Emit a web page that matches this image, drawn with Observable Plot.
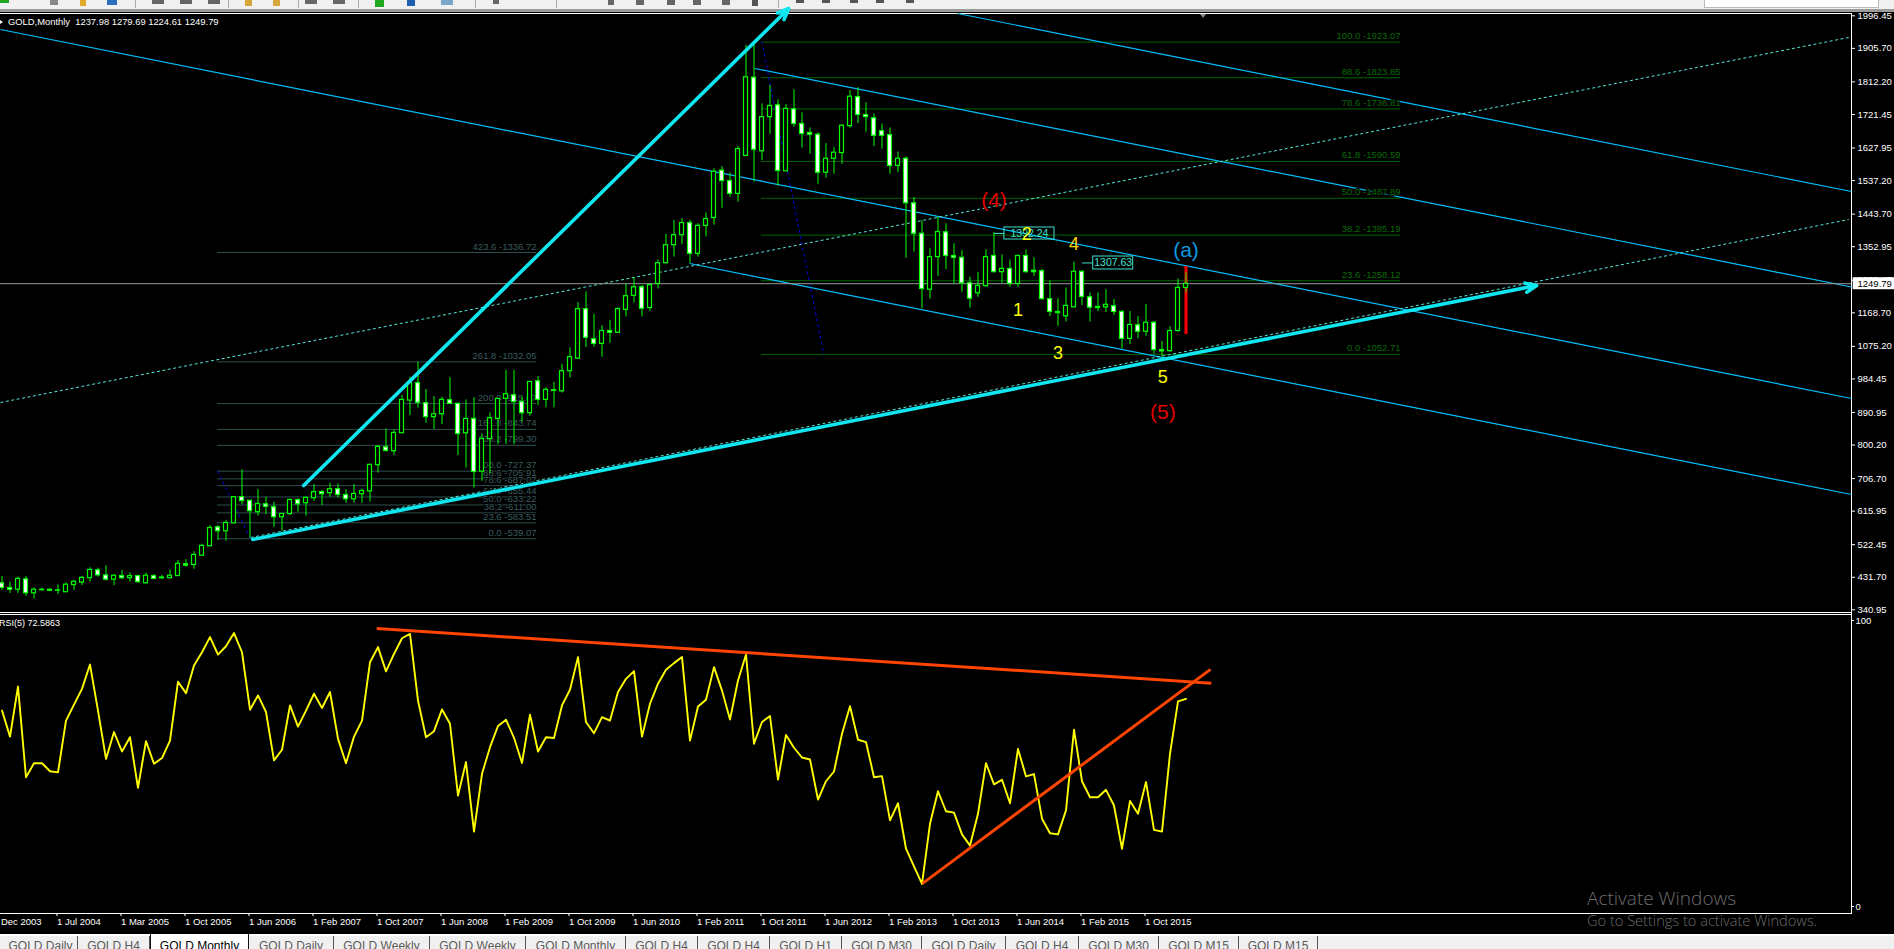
<!DOCTYPE html>
<html>
<head>
<meta charset="utf-8">
<script src="https://cdn.jsdelivr.net/npm/d3@7"></script>
<script src="https://cdn.jsdelivr.net/npm/@observablehq/plot@0.6"></script>
<style>
html,body{margin:0;padding:0;background:#000;overflow:hidden}
#page{position:relative;width:1894px;height:949px;background:#000;overflow:hidden;font-family:"Liberation Sans",Arial,sans-serif}
#page svg{position:absolute;left:0;background:transparent;overflow:hidden}
.c{position:absolute}
.tab{position:absolute;top:936px;height:13px;overflow:hidden;color:#5a5a5a;font-size:12px;line-height:20px;text-align:center;border-right:1px solid #555;box-sizing:border-box;white-space:nowrap}
.tab.on{background:#fff;color:#000;top:934px;height:15px;line-height:24px;border-left:1px solid #111;border-right:1px solid #111}
</style>
</head>
<body>
<div id="page">
  <div class="c" style="left:0;top:0;width:1894px;height:9px;background:#f0f0f0"></div>
  <div class="c" style="left:0;top:9px;width:1894px;height:3px;background:#9a9a9a"></div>
  <div class="c" style="left:1704px;top:0;width:173px;height:7px;background:#fff;border:1px solid #bbb;border-top:0"></div>
  <div class="c" style="left:0;top:13px;width:1851px;height:1px;background:#fff"></div>
  <div class="c" style="left:0;top:612px;width:1851px;height:1px;background:#fff"></div>
  <div class="c" style="left:0;top:614px;width:1851px;height:1px;background:#fff"></div>
  <div class="c" style="left:0;top:913px;width:1851px;height:1px;background:#fff"></div>
  <div class="c" style="left:1851px;top:13px;width:1px;height:901px;background:#fff"></div>
  <div class="c" style="left:0;top:934px;width:1894px;height:2px;background:#fff"></div>
  <div class="c" style="left:0;top:936px;width:1894px;height:13px;background:#f0f0f0"></div>
  <div id="tools"></div>
  <div class="c" style="left:1200px;top:14px;width:0;height:0;border-left:3px solid transparent;border-right:3px solid transparent;border-top:4px solid #888"></div>
  <div class="c" style="left:0;top:20px;width:0;height:0;border-top:2px solid transparent;border-bottom:2px solid transparent;border-left:3px solid #fff"></div>
  <div class="c" style="left:8px;top:16px;color:#fff;font-size:9.4px;line-height:12px;white-space:pre">GOLD,Monthly  1237.98 1279.69 1224.61 1249.79</div>
  <div class="c" style="left:-1px;top:617px;color:#fff;font-size:9px;line-height:12px;white-space:pre">RSI(5) 72.5863</div>
</div>
<script>
// Monthly GOLD candles, oldest first
const opens = [415,402,397,426,387,397,397,394,390,410,
417,429,451,437,425,435,429,435,415,435,
431,429,435,468,466,492,518,571,560,582,
655,645,613,635,627,599,608,647,638,652,
669,666,677,661,649,663,671,744,794,783,
833,924,973,917,878,886,925,915,833,873,
726,817,873,929,939,920,889,978,926,951,
950,1006,1041,1179,1095,1082,1118,1113,1177,1216,
1240,1182,1249,1307,1357,1385,1419,1333,1411,1433,
1565,1536,1500,1606,1824,1619,1714,1747,1563,1736,
1695,1670,1665,1559,1598,1614,1689,1770,1720,1711,
1675,1664,1578,1598,1474,1389,1233,1324,1393,1327,
1322,1251,1223,1243,1327,1282,1291,1249,1327,1286,
1285,1207,1171,1159,1184,1283,1212,1185,1184,1187,
1171,1096,1134,1116,1141,1065,1062,1118,1237.98];
const highs = [434,418,432,434,402,401,399,410,416,423,
434,458,457,464,439,451,444,437,444,439,
437,452,478,481,503,524,576,576,590,655,
731,645,676,655,641,610,650,650,655,690,
674,694,692,676,690,677,747,799,845,843,
938,989,1031,955,935,934,988,917,926,932,
831,890,929,1008,1008,935,978,991,960,975,
1025,1071,1197,1227,1164,1133,1147,1183,1249,1266,
1245,1249,1316,1387,1426,1432,1426,1417,1447,1570,
1576,1559,1632,1914,1923,1751,1802,1762,1749,1790,
1726,1684,1670,1640,1629,1693,1788,1796,1754,1723,
1695,1684,1617,1603,1490,1425,1347,1435,1417,1361,
1342,1268,1281,1344,1392.24,1330,1316,1330,1344,1322,
1290,1257,1208,1238,1310,1286,1224,1224,1233,1206,
1175,1172,1158,1192,1144,1089,1130,1263,1279.69];
const lows = [395,387,387,378,371,393,392,384,390,395,
409,418,432,421,408,425,418,415,413,425,
425,429,434,460,454,490,518,534,532,581,
634,540,602,607,571,560,604,613,602,643,
632,655,653,638,638,638,641,722,780,771,
833,882,903,861,844,857,915,771,736,680,
699,720,801,802,801,864,881,910,904,904,
945,987,1039,1072,1073,1045,1084,1113,1157,1196,
1157,1173,1235,1305,1324,1359,1307,1324,1380,1413,
1460,1491,1477,1606,1533,1593,1666,1522,1563,1686,
1628,1611,1527,1544,1555,1583,1683,1696,1672,1632,
1625,1555,1560,1321,1338,1180,1207,1270,1289,1249,
1226,1182,1212,1240,1280,1251,1240,1240,1279,1270,
1203,1158,1131,1143,1184,1189,1143,1172,1170,1161,
1068,1080,1096,1103,1053,1045,1059,1115,1224.61];
const closes = [402,397,427,387,397,396,394,395,411,419,
430,452,437,425,436,429,435,418,436,427,
429,436,469,464,494,519,569,560,583,655,
644,616,636,628,599,608,647,635,653,669,
663,677,661,649,664,672,745,795,784,834,
926,973,918,878,886,926,915,831,873,725,
817,875,929,942,920,889,976,926,954,953,
1006,1045,1179,1099,1082,1118,1113,1179,1215,1240,
1180,1246,1307,1357,1385,1419,1333,1411,1430,1562,
1536,1500,1625,1825,1623,1714,1745,1564,1737,1695,
1667,1665,1559,1598,1615,1690,1771,1720,1714,1662,
1662,1578,1598,1474,1389,1235,1324,1394,1327,1322,
1251,1208,1244,1324,1282,1291,1249,1327,1282,1282,
1207,1171,1168,1188,1283,1213,1183,1182,1191,1171,
1096,1135,1116,1141,1065,1061,1118,1238,1249.79];
const rsiValues = [68.5,59.4,76.9,45.2,50.1,50.1,47.3,46.9,65.0,70.6,
76.1,84.6,68.5,51.6,61.0,54.2,59.2,41.5,57.8,49.9,
51.9,58.0,78.6,74.6,84.3,88.9,94.2,88.1,91.0,95.6,
88.9,68.8,73.8,68.0,51.1,54.8,70.3,62.9,68.5,74.4,
69.4,75.0,58.6,50.1,59.4,65.0,85.4,90.7,82.2,88.3,
93.8,95.3,72.0,59.2,61.3,68.9,63.9,38.8,50.5,26.2,
46.4,55.7,63.1,65.3,59.0,50.2,67.1,54.2,59.2,58.9,
70.3,75.8,87.2,64.5,60.6,66.2,65.0,75.0,79.6,82.3,
59.4,70.9,77.9,82.8,85.1,87.2,58.0,69.9,72.3,83.7,
75.5,65.4,79.0,88.1,56.9,64.5,66.6,44.4,60.0,55.5,
52.1,51.4,37.4,43.8,47.2,60.4,70.0,58.3,57.5,45.2,
45.6,30.1,36.1,20.2,14.0,7.9,28.9,40.3,33.3,32.8,
25.2,21.3,32.4,50.1,42.7,44.3,36.1,55.1,45.5,46.3,
30.7,25.6,25.2,33.6,61.8,43.8,38.2,38.2,40.8,35.3,
20.2,36.9,32.4,43.5,26.8,26.2,53.4,71.7,72.5863];

const priceTicks = [1996.45,1905.70,1812.20,1721.45,1627.95,1537.20,1443.70,1352.95,1259.45,1168.70,1075.20,984.45,890.95,800.20,706.70,615.95,522.45,431.70,340.95];
const timeTickBars = [-1,7,15,23,31,39,47,55,63,71,79,87,95,103,111,119,127,135,143];
const timeTickLabels = ["1 Dec 2003","1 Jul 2004","1 Mar 2005","1 Oct 2005","1 Jun 2006","1 Feb 2007","1 Oct 2007","1 Jun 2008","1 Feb 2009","1 Oct 2009","1 Jun 2010","1 Feb 2011","1 Oct 2011","1 Jun 2012","1 Feb 2013","1 Oct 2013","1 Jun 2014","1 Feb 2015","1 Oct 2015"];
const lastPrice = 1249.79;

const fibUpPct = ["100.0","88.6","78.6","61.8","50.0","38.2","23.6","0.0"];
const fibUpPrice = [1923.07,1823.85,1736.81,1590.59,1487.89,1385.19,1258.12,1052.71];
const fibLowPct = ["423.6","261.8","200.0","161.8","138.2","100.0","88.6","78.6","61.8","50.0","38.2","23.6","0.0"];
const fibLowPrice = [1336.72,1032.05,915.67,843.74,799.30,727.37,705.91,687.07,655.44,633.22,611.00,583.51,539.07];
const fibUpBars = [94.94,174.81];
const fibLowBars = [26.94,66.81];

// trend objects: [bar1, price1, bar2, price2]
const channelLines = [[-0.19,1958.3,231.19,930.0],[94.09,1849.6,231.19,1240.6],[119.46,2002.9,231.19,1506.8],[85.96,1306.1,231.19,662.3]];
const fanLines = [[-0.19,918.7,230.84,1936.0],[31.09,542.5,230.84,1428.7]];
const fibTrendLines = [[94.97,1924,102.72,1052.71],[26.94,727.37,31.06,539.07]];
const arrowLines = [[31.34,536.9,191.84,1244.8],[37.71,687.4,98.34,2016.8]];
const rsiTrendLines = [[46.84,97.2,151.16,78.1],[115.04,8.0,151.06,82.9]];

const waveText = ["(4)","(a)","(5)","1","2","3","4","5"];
const waveBar = [124,148,145.1,127,128.1,132,134,145.1];
const wavePrice = [1481.7,1342.4,890.9,1175.1,1386.9,1055.3,1359.1,988.4];
const waveColor = ["#e00000","#0a9be0","#e00000","#ffff00","#ffff00","#ffff00","#ffd000","#ffff00"];
const waveSize = [21,21,21,18,18,18,18,18];

const priceBoxes = [{t:"1392.24",a:125.3,b:131.56,lo:1373,hi:1406.5,y:1390,from:124,to:125.3},{t:"1307.63",a:136.4,b:141.4,lo:1289.4,hi:1325.6,y:1307.63,from:135,to:136.4}];
const tabNames = ["GOLD Daily","GOLD H4","GOLD Monthly","GOLD Daily","GOLD Weekly","GOLD Weekly","GOLD Monthly","GOLD H4","GOLD H4","GOLD H1","GOLD M30","GOLD Daily","GOLD H4","GOLD M30","GOLD M15","GOLD M15"];
const tabEdges = [4,78,150,249,334,430,526,626,698,770,842,922,1006,1079,1159,1239,1318];
// toolbar scraps: left, width, height, colour
const toolbarIcons = [[0,9,3,"#1fa81f"],[50,8,5,"#888"],[80,6,6,"#e0a92a"],[107,10,5,"#2a6fc0"],[135,1,8,"#aaa"],[152,12,4,"#666"],[180,12,4,"#666"],[208,12,4,"#666"],[228,1,8,"#aaa"],[245,7,6,"#d6a63a"],[273,7,6,"#d6a63a"],[298,1,8,"#aaa"],[305,12,4,"#666"],[333,12,4,"#666"],[358,1,8,"#aaa"],[375,9,7,"#1fa81f"],[407,8,6,"#1d5fae"],[441,12,5,"#7aa7c7"],[475,1,8,"#aaa"],[493,6,4,"#666"],[556,1,8,"#aaa"],[608,6,5,"#666"],[636,8,5,"#666"],[667,8,5,"#666"],[693,8,5,"#666"],[722,8,5,"#666"],[752,6,6,"#555"],[778,1,8,"#aaa"],[796,8,3,"#555"],[822,8,3,"#555"],[850,8,3,"#555"],[876,8,3,"#555"],[906,8,3,"#555"]];

const bars = opens.map((o,i)=>({i,o,h:highs[i],l:lows[i],c:closes[i]}));
const fibUp = fibUpPct.map((p,k)=>({label:`${p} -${fibUpPrice[k].toFixed(2)}`,y:fibUpPrice[k]}));
const fibLow = fibLowPct.map((p,k)=>({label:`${p} -${fibLowPrice[k].toFixed(2)}`,y:fibLowPrice[k]}));
const seg = a=>a.map(([x1,y1,x2,y2])=>({x1,y1,x2,y2}));
const xDomain = [-0.1875,231.1875];
const font = '"Liberation Sans",Arial,sans-serif';
const page = document.getElementById("page");

const tools = document.getElementById("tools");
toolbarIcons.forEach(([l,w,h,col])=>{
  const e = document.createElement("div");
  e.className="c";
  e.style.cssText=`left:${l}px;top:0;width:${w}px;height:${h}px;background:${col}`;
  tools.appendChild(e);
});

const GREEN = "#00ff00";
const main = Plot.plot({
  width:1894,height:620,marginTop:0,marginBottom:0,marginLeft:0,marginRight:43,
  x:{domain:xDomain,axis:null},
  y:{domain:[311.2,2039.1],axis:null},
  style:{background:"transparent",fontFamily:font,fontSize:"9.5px",color:"white"},
  marks:[
    Plot.ruleY(fibLow,{y:"y",x1:fibLowBars[0],x2:fibLowBars[1],stroke:"#2f4f4f"}),
    Plot.ruleY(fibUp,{y:"y",x1:fibUpBars[0],x2:fibUpBars[1],stroke:"#006400"}),
    Plot.link(seg(channelLines),{x1:"x1",y1:"y1",x2:"x2",y2:"y2",stroke:"#00bfff",strokeWidth:1.2}),
    Plot.link(seg(fanLines),{x1:"x1",y1:"y1",x2:"x2",y2:"y2",stroke:"#55e5d8",strokeWidth:1,strokeDasharray:"3,2.5"}),
    Plot.link(seg(fibTrendLines),{x1:"x1",y1:"y1",x2:"x2",y2:"y2",stroke:"#0000e0",strokeWidth:1,strokeDasharray:"3,3"}),
    Plot.text(fibLow,{x:fibLowBars[1],y:"y",text:"label",textAnchor:"end",dy:-6,fill:"#3a5c5c",stroke:"black",strokeWidth:2,fontSize:9.5}),
    Plot.text(fibUp,{x:fibUpBars[1],y:"y",text:"label",textAnchor:"end",dy:-6,fill:"#0a6a0a",stroke:"black",strokeWidth:2,fontSize:9.5}),
    Plot.ruleY([lastPrice],{stroke:"#9a9a9a",strokeWidth:1}),
    Plot.ruleX([148],{y1:1108.2,y2:1297.7,stroke:"#ff0000",strokeWidth:3}),
    Plot.ruleX(bars,{x:"i",y1:"l",y2:"h",stroke:GREEN,strokeWidth:1}),
    Plot.rect(bars,{x1:d=>d.i-0.25,x2:d=>d.i+0.25,y1:"o",y2:"c",fill:d=>d.c<d.o?"#ffffff":"#000000",stroke:GREEN,strokeWidth:1.2}),
    Plot.link(priceBoxes,{x1:"from",x2:"to",y1:"y",y2:"y",stroke:"#40e0d0",strokeWidth:1}),
    Plot.rect(priceBoxes,{x1:"a",x2:"b",y1:"lo",y2:"hi",stroke:"#40e0d0",strokeWidth:1,fill:"none"}),
    Plot.text(priceBoxes,{x:d=>(d.a+d.b)/2,y:"y",text:"t",fill:"#40e0d0",fontSize:10.5}),
    Plot.arrow(seg(arrowLines),{x1:"x1",y1:"y1",x2:"x2",y2:"y2",bend:0,stroke:"#10e6ef",strokeWidth:3.6,headLength:5,headAngle:45}),
    Plot.text(waveText,{x:(d,k)=>waveBar[k],y:(d,k)=>wavePrice[k],text:d=>d,fill:(d,k)=>waveColor[k],fontSize:(d,k)=>waveSize[k]}),
    Plot.axisY(priceTicks,{anchor:"right",tickSize:3,tickPadding:3,tickFormat:d=>d.toFixed(2),stroke:"white",fill:"white",fontSize:9.5,textAnchor:"start"}),
    Plot.rect([lastPrice],{x1:231.4,x2:236.7,y1:d=>d-16.7,y2:d=>d+16.7,fill:"white"}),
    Plot.text([lastPrice],{x:231.19,y:d=>d,text:d=>d.toFixed(2),textAnchor:"start",dx:6,fill:"black",fontSize:9.5})
  ]
});
main.style.top="0px";
page.appendChild(main);

const rsi = Plot.plot({
  width:1894,height:321,marginTop:0,marginBottom:22,marginLeft:0,marginRight:43,
  x:{domain:xDomain,axis:null},
  y:{domain:[-2.45,102.1],axis:null},
  style:{background:"transparent",fontFamily:font,fontSize:"9.5px",color:"white"},
  marks:[
    Plot.line(rsiValues,{x:(d,i)=>i,y:d=>d,stroke:"#ffff00",strokeWidth:1.9,curve:"linear"}),
    Plot.link(seg(rsiTrendLines),{x1:"x1",y1:"y1",x2:"x2",y2:"y2",stroke:"#ff4500",strokeWidth:3}),
    Plot.axisY([0,100],{anchor:"right",tickSize:2,tickPadding:2,stroke:"white",fill:"white",fontSize:9.5,textAnchor:"start"}),
    Plot.axisX(timeTickBars,{anchor:"bottom",tickSize:3,tickPadding:2,tickFormat:(d,k)=>timeTickLabels[timeTickBars.indexOf(d)],stroke:"white",fill:"white",textAnchor:"start",dx:-1,fontSize:9.5})
  ]
});
rsi.style.top="614px";
page.appendChild(rsi);

tabNames.forEach((t,k)=>{
  const e = document.createElement("div");
  e.className = "tab"+(k===2?" on":"");
  e.style.left = tabEdges[k]+"px";
  e.style.width = (tabEdges[k+1]-tabEdges[k])+"px";
  e.textContent = t;
  page.appendChild(e);
});
const w1 = document.createElement("div");
w1.className="c";
w1.style.cssText='left:1587px;top:885px;color:#6e6e6e;font:300 19px "Open Sans",sans-serif;white-space:nowrap';
w1.textContent="Activate Windows";
page.appendChild(w1);
const w2 = document.createElement("div");
w2.className="c";
w2.style.cssText='left:1587px;top:910px;color:#6e6e6e;font:300 14.6px "Open Sans",sans-serif;white-space:nowrap';
w2.textContent="Go to Settings to activate Windows.";
page.appendChild(w2);
</script>
</body>
</html>
